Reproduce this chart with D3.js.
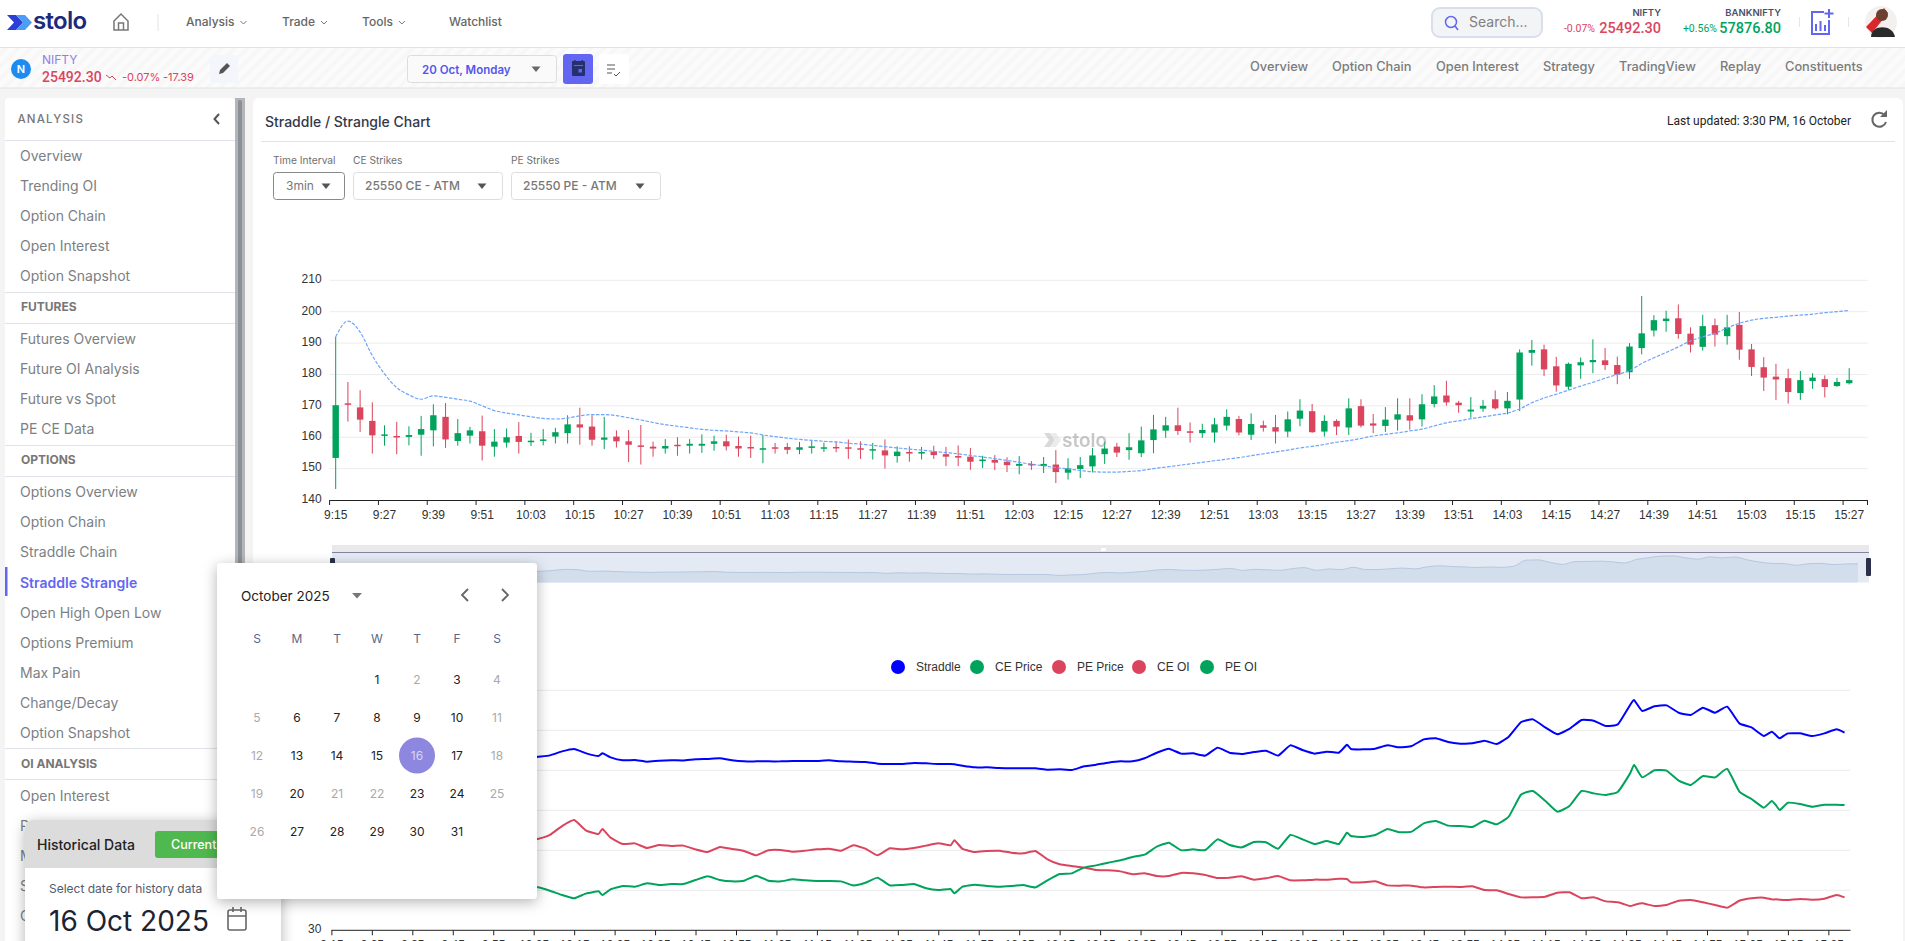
<!DOCTYPE html>
<html lang="en">
<head>
<meta charset="UTF-8">
<title>Straddle / Strangle Chart</title>
<script src="https://d3js.org/d3.v7.min.js"></script>
<style>
    html, body { margin: 0; padding: 0; background: #f4f4f4; overflow: hidden; }
    svg { display: block; font-family: Inter, "Noto Sans", sans-serif; }
    .echart text { font-family: "Liberation Sans", Arial, sans-serif; }
</style>
</head>
<body>
<svg id="page" width="1905" height="941"></svg>
<script>
// candles, one per 3 minutes from 9:15
const candleOpen = [153.4,170.8,169.5,165.2,160.6,160.4,160.1,160.8,162.2,166.5,158.8,160.5,161.9,157,158.3,160.4,158.4,158.9,160.2,161.3,164.1,163.4,159.2,160.2,158.7,157.4,157,156.4,157.6,157.3,157.3,157.9,158.7,157.2,156.9,156,156.8,156.9,156,156.6,156.4,156.9,
    156.8,156.5,155.8,155.8,154,155.3,154.8,155.4,154.6,154,153.8,152.4,152.8,152.2,150.9,151.5,150.8,151.3,148.7,149.9,150.7,154.6,157,155.9,154.9,159.1,162.1,163.8,161.9,161.3,161.5,163.7,165.8,160.8,163.8,163.2,161.8,165.9,168.3,161.8,165.2,163.1,169.9,164.4,
    163.6,165.6,167,165.7,170.6,173.3,171,168.2,169.1,172.1,169.2,172,186.9,188,182.6,176.1,182.9,183.9,184.5,183,180.7,188.4,194,197,197.9,193,188.8,195.7,192.2,195.8,188,182.3,179.3,178.8,174.1,177.9,178.5,176.3,177.2];
const candleClose = [170.2,170.4,165.6,160.6,160.9,160,160.7,162.6,167,159.3,161.3,162.2,157.3,158.6,160,158.5,158.9,159.3,161.6,164.1,163.1,159.2,159.9,158.7,157.6,157,156.4,157.2,157.2,157.9,157.9,158.7,157.1,156.4,156.4,156.5,156.4,156,156.8,157.1,156.8,156.5,
    156.4,156,156.2,154.2,155.4,154.8,155.3,154.3,153.8,153.5,152.2,152.9,151.9,151.1,151.5,151.1,151.5,148.9,150.1,151.1,154.2,156.4,155.1,156.8,159,162.5,163.8,162,161.4,162.3,164.1,166.5,161.5,164.2,163,161.8,165.7,168.5,161.6,165.2,163.4,169.2,163.7,163.7,
    165.6,167.3,165.3,170.5,173,171.1,170.2,168.8,170,169.2,171.6,187,187.8,181.6,176.5,183.4,183.9,184.6,183,179.9,188.9,193.1,197.3,197.8,192.9,189.5,195.4,192.7,195,187.9,182.4,179,178.4,174.4,178.2,179,176,177.6,178.2];
const candleHigh = [192,177.6,175,171.1,163.8,164.9,163.5,166.8,170.5,170.9,165.8,163.3,166.9,162.6,162.8,164.8,161.4,162.6,163,167,169.4,167,166.5,162.2,162.3,163.9,158.6,159.4,160,159.4,160.9,160.5,160.8,160.2,160.5,160.7,158.2,158.2,158.5,158.8,158.3,158.6,
    159.3,158.7,158.2,159.3,157.1,157.1,156.9,157.3,156.9,157.4,156.6,154.1,154.3,153.6,154,152.4,153.7,155.9,153.3,153.7,156.6,158.6,158.2,161.3,163.4,167.1,166.5,169.4,164.7,164.3,166.1,168.9,166.8,167.6,165.3,167.1,168.2,172.1,170.6,167,165.7,172.4,172.1,167.4,
    169.6,172.4,172.4,173.7,176.6,178,171.6,172.8,171.9,174.9,174.4,188,191,189.5,185.6,183.8,185.4,191.2,188.4,185.7,190,205,198.9,200.3,202.3,195,199,197.8,199,199.9,189.7,185.5,183.4,181.8,181.1,180.4,179.7,178.9,182];
const candleLow = [143.5,165,161.7,154.8,157.3,154.6,157.4,154.1,157.1,156.6,157.3,158,152.6,153.8,156.7,154.8,157.2,157.4,158,158,157.6,157.3,156.2,156.7,152.1,151.3,153.8,154.8,154.1,154.8,155,155.7,155.8,153.8,153.4,151.7,154.8,154.6,154.6,154.8,155.3,155.2,
    153.1,153.1,152.9,150,151.9,152.2,152.9,153.1,150.8,150.8,149.6,150.2,149.5,148.9,148.2,149.6,148.6,145.4,146.5,147,148.8,151.5,153.7,152.8,153.7,154.9,159.8,160.7,158.3,159.8,158.3,162.1,160.6,159.1,161.8,158,160,163.5,161.4,160.2,160.7,160.7,163.1,161.3,
    161.7,162.1,162.4,163.4,169.5,170.1,167.8,166.2,168.1,168.8,167.3,168.3,182.8,179.5,174.5,175.1,178.6,180.4,181.4,176.9,178.6,186.4,192.1,193.6,191.4,187,187.6,188.9,189.5,184.7,179.5,174.7,171.9,170.7,171.9,175.4,172.7,176.1,176.8];
const vwapValues = [192,197,193.5,186,180.2,175.8,173.5,172.1,173.2,172.7,172.1,171.5,170,168.5,167.7,167.1,166.5,166,165.8,166.1,166.8,167.2,167.2,166.9,166.2,165.5,164.7,164,163.5,163,162.5,162.2,162,161.7,161.4,160.7,160.2,159.7,159.3,159,158.7,158.5,
    158.1,157.8,157.4,157,156.6,156.2,155.9,155.5,155.1,154.7,154.2,153.7,153.2,152.6,152,151.4,150.9,150.3,149.9,149.4,149,148.9,148.9,149.1,149.4,150,150.5,151,151.5,152,152.5,153,153.5,154.1,154.7,155.3,155.9,156.6,157.1,157.7,158.4,158.9,159.6,160.4,
    160.9,161.4,162,162.6,163.6,164.6,165.2,165.9,166.5,167.1,167.7,169,171,172.5,173.7,175,176.3,177.5,178.8,180,181.2,183.5,185.3,187,188.8,190.7,192,193.1,194.8,196.3,197.3,197.9,198.2,198.6,198.9,199.2,199.7,200,200.4];
const candleTicksY = [140,150,160,170,180,190,200,210];

// lower chart, minutes after 9:15
const lineMinutes = [0,3,6,9,12,15,18,21,24,27,30,33,36,39,42,45,48,51,54,57,60,63,66,67,69,72,75,78,81,84,87,90,93,96,99,102,105,108,111,114,117,120,123,126,129,132,135,138,141,144,147,150,153,154,
    156,159,162,165,168,171,174,177,180,183,186,189,192,195,198,201,204,207,210,213,216,219,222,225,228,231,234,237,240,243,246,249,251,252,255,258,261,264,267,270,273,276,279,282,285,288,291,294,297,300,303,306,309,312,315,318,321,322,324,327,330,333,336,339,342,345,348,351,354,356,357,358,360,363,366,369,372,374];
const straddleValues = [170,170.5,166,161,161,160.5,160.5,162.5,167,159.5,161,162,157.5,158.5,160,158.5,159,160.2,161.2,164.2,166,162.7,160.7,162.7,159.7,157.5,157.7,156.5,157.2,157.5,157.4,158.2,158.5,159,157.5,156.7,156.7,156.7,156.7,157,157,157,157.5,156.7,156.5,156.2,155,154.7,154.7,155.5,155.2,154.7,154.7,154.5,
    153.4,152.2,152.2,151.7,151.5,151.5,151.5,150.5,150.7,150.2,153,154.2,155.7,156.7,156.7,159,163.2,166.2,162.5,162.7,161,167,163.2,162.2,163.7,164.7,161,168.7,165.2,162.5,164,163.2,169.2,166,165.7,166.2,168.7,167.2,168.2,173.2,174,171.2,170,170.2,172.2,169.7,175.2,186,188.2,182.2,177,181,187.7,187.2,183.2,184.5,199,202.7,194.5,198,198.7,193.2,191.5,197,193.2,197.7,185.2,182.2,175.7,179,176.5,174,177.7,177.7,175.7,177.7,180.7,178.2];
const cePriceValues = [68,66,61,58,58,58,57,55,56,55.5,58,60,64,63,62,63,62,62.2,59.7,56.5,54,57.7,59.2,56.5,60.7,63.2,62.7,65.2,64,64.7,64.7,67.7,70.5,67.7,66.7,67.2,71,67.2,66.7,68.2,67.5,67,67,66.7,63.7,65.7,69.5,63.7,64,64.7,61.5,60.2,61,57.7,
    62.7,64.2,63.2,62.7,63.2,64,62.2,67.5,72.2,72.7,77,78.7,80.7,82.5,85,86.7,92.7,95.7,90,90.7,90.2,98.2,94,92.2,96.2,96,91.2,101.5,98.2,94.7,97,94.7,103.2,100.7,100,101.5,106,103.5,104,110.2,112,108.5,108.2,107.5,112.2,109.5,115.2,131.7,134.5,127.2,119,123.2,134.5,132.7,131.5,134,147.7,154,144.7,150,149.7,142.2,139,145.7,144.7,151,134,128.5,122,127,124,120.2,125.7,124.7,122.7,124.2,124.2,124];
const pePriceValues = [102,104.5,105,103,103,102.5,103.5,107.5,111,104,103,102,93.5,95.5,98,95.5,97,98.5,101.5,108.2,112.7,104.7,102.2,106,99.5,94.7,95.2,91.7,94,93.2,93.5,90.7,88.7,92.5,91,89.5,86.2,90,90.2,89,89.7,90.7,91.2,89.7,93.7,91.2,86.2,91.5,90.7,91.7,93.5,95.2,93.7,97.5,
    91,88.7,89.5,89.7,88.2,87.7,89.5,83.2,79.5,78.2,77,75.2,75,74.2,72,72.7,70.7,70.7,73,72.7,71.5,69.2,69.5,70.5,68,69,70.7,67.5,67.5,68,68,68.7,68.5,66,66,66.7,63.7,63.5,63.5,62.2,62.5,62.7,62.5,63,60.2,60,57.2,54.7,54.7,55.2,58.2,58.5,54,54.7,51.7,51,48.2,49,50.2,48.2,49,52.2,52.7,51,49,47,52.2,54,54.5,53.2,53.2,53,52.7,53.5,53,53.7,56.5,54.7];
const lineTicksY = [30,60,90,120,150,180,210];
const legendNames = ["Straddle","CE Price","PE Price","CE OI","PE OI"];

// page text
const navItems = ["Analysis","Trade","Tools","Watchlist"];
const tabItems = ["Overview","Option Chain","Open Interest","Strategy","TradingView","Replay","Constituents"];
const sidebarItems = ["Overview","Trending OI","Option Chain","Open Interest","Option Snapshot","FUTURES","Futures Overview","Future OI Analysis","Future vs Spot","PE CE Data","OPTIONS","Options Overview","Option Chain","Straddle Chain","Straddle Strangle","Open High Open Low","Options Premium","Max Pain","Change/Decay","Option Snapshot","OI ANALYSIS","Open Interest","PCR & OI Trend","Max Pain","Spot","Chart"];
const weekDays = ["S","M","T","W","T","F","S"];
const calendarWeeks = [[null,null,null,1,2,3,4],[5,6,7,8,9,10,11],[12,13,14,15,16,17,18],[19,20,21,22,23,24,25],[26,27,28,29,30,31,null]];
const dimmedDays = [2,4,5,11,12,18,19,21,22,25,26];

const GREEN = "#00a35c", RED = "#da455d", BLUE = "#0000ff", PURPLE = "#6366f1";

const svg = d3.select("#page");
const defs = svg.append("defs");
const stripes = defs.append("pattern").attr("id", "stripes").attr("width", 9).attr("height", 9)
    .attr("patternUnits", "userSpaceOnUse").attr("patternTransform", "rotate(45)");
stripes.append("rect").attr("width", 9).attr("height", 9).attr("fill", "#fbfbfb");
stripes.append("rect").attr("width", 4).attr("height", 9).attr("fill", "#f7f7f7");
const shadow = defs.append("filter").attr("id", "shadow").attr("x", "-15%").attr("y", "-15%").attr("width", "130%").attr("height", "130%");
shadow.append("feDropShadow").attr("dx", 0).attr("dy", 3).attr("stdDeviation", 7).attr("flood-color", "#000").attr("flood-opacity", 0.3);

function rect(parent, x, y, w, h, fill, extra = {}) {
    const r = parent.append("rect").attr("x", x).attr("y", y).attr("width", w).attr("height", h).attr("fill", fill);
    Object.entries(extra).forEach(([k, v]) => r.attr(k, v));
    return r;
}
function label(parent, x, y, str, size, color, extra = {}) {
    const t = parent.append("text").attr("x", x).attr("y", y).attr("dy", "0.35em")
        .attr("font-size", size).attr("fill", color).text(str);
    Object.entries(extra).forEach(([k, v]) => t.attr(k, v));
    return t;
}
function hline(parent, x1, x2, y, color) {
    parent.append("line").attr("x1", x1).attr("x2", x2).attr("y1", y).attr("y2", y).attr("stroke", color);
}
function caret(parent, x, y, color = "#666", w = 5) {
    parent.append("path").attr("d", `M${x - w},${y - 2.5}L${x + w},${y - 2.5}L${x},${y + 3}Z`).attr("fill", color);
}
function chevron(parent, x, y, color = "#777", size = 3) {
    parent.append("path").attr("d", `M${x - size},${y - size / 2}L${x},${y + size / 2}L${x + size},${y - size / 2}`)
        .attr("fill", "none").attr("stroke", color);
}

// ---------- header ----------
const header = svg.append("g");
rect(header, 0, 0, 1905, 47, "#fff");
hline(header, 0, 1905, 47.5, "#e2e2e2");
[[7, "#2b3fd6"], [16, "#4e9df5"]].forEach(([x, c]) => {
    header.append("path").attr("d", `M${x},15L${x + 9},15L${x + 16},22.5L${x + 9},30L${x},30L${x + 7},22.5Z`).attr("fill", c);
});
label(header, 33, 21, "stolo", 24, "#1c2a7a", {"font-weight": 600, "letter-spacing": "-0.7px"});
header.append("path").attr("d", "M114,21L121,14L128,21V30H114ZM118.5,30V23H123.5V30").attr("fill", "none").attr("stroke", "#777").attr("stroke-width", 1.5);
rect(header, 157.5, 14, 1, 17, "#e4e4e4");
[186, 282, 362, 449].forEach((x, i) => {
    const t = label(header, x, 22, navItems[i], 12, "#666", {"font-weight": 500});
    if (i < 3) chevron(header, x + t.node().getComputedTextLength() + 9, 22.5);
});
rect(header, 1432, 8, 110, 29, "#f3f4f6", {stroke: "#d9deee", "stroke-width": 2, rx: 8});
header.append("circle").attr("cx", 1451).attr("cy", 22).attr("r", 5.5).attr("fill", "none").attr("stroke", PURPLE).attr("stroke-width", 1.5);
header.append("path").attr("d", "M1455,26L1458,30").attr("stroke", PURPLE).attr("stroke-width", 1.5);
label(header, 1469, 22, "Search...", 14, "#808080");
const robotoNum = {"text-anchor": "end", "font-family": "Roboto", "font-weight": 500};
label(header, 1661, 13, "NIFTY", 9.5, "#4a4f6a", {"text-anchor": "end", "font-weight": 600});
label(header, 1595, 28, "-0.07%", 10.5, RED, {"text-anchor": "end", "font-family": "Roboto"});
label(header, 1661, 28, "25492.30", 14.5, RED, robotoNum);
label(header, 1781, 13, "BANKNIFTY", 9.5, "#4a4f6a", {"text-anchor": "end", "font-weight": 600});
label(header, 1717, 28, "+0.56%", 10.5, GREEN, {"text-anchor": "end", "font-family": "Roboto"});
label(header, 1781, 28, "57876.80", 14.5, GREEN, robotoNum);
header.append("path").attr("d", "M1824,12H1812V34H1829V20M1816,31V24M1820.5,31V21M1825,31V25M1829,9V18M1824.5,13.5H1833.5")
    .attr("fill", "none").attr("stroke", PURPLE).attr("stroke-width", 2);
rect(header, 1799, 17, 1, 10, "#e6e6e6");
rect(header, 1848, 17, 1, 10, "#e6e6e6");
const avatar = header.append("g");
avatar.append("circle").attr("cx", 1881).attr("cy", 22).attr("r", 16).attr("fill", "#f4f0f0");
avatar.append("path").attr("d", "M1866,27L1884,8L1888,13L1872,33Z").attr("fill", "#d8282c");
avatar.append("circle").attr("cx", 1882).attr("cy", 15).attr("r", 6).attr("fill", "#6b4030");
avatar.append("path").attr("d", "M1871,37C1871,24 1893,24 1895,37Z").attr("fill", "#2b2a2a");

// ---------- symbol bar ----------
const bar = svg.append("g");
rect(bar, 0, 48, 1905, 40, "url(#stripes)");
hline(bar, 0, 1905, 88, "#e2e2e2");
bar.append("circle").attr("cx", 21).attr("cy", 69).attr("r", 10).attr("fill", "#1c8cf0");
label(bar, 21, 69, "N", 11, "#fff", {"text-anchor": "middle", "font-weight": 600});
label(bar, 42, 60, "NIFTY", 12, "#8f7fe6");
label(bar, 42, 77, "25492.30", 14, RED, {"font-family": "Roboto", "font-weight": 500});
bar.append("path").attr("d", "M106,75L110,78L112,76L116,80").attr("fill", "none").attr("stroke", RED);
label(bar, 122, 77, "-0.07%", 11, RED);
label(bar, 163, 77, "-17.39", 11, RED);
rect(bar, 210, 55, 28, 28, "#f3f7fb", {rx: 3});
bar.append("path").attr("d", "M219,74L220,70L227,63L230,66L223,73Z").attr("fill", "#555");
rect(bar, 407.5, 55.5, 149, 27, "#fafafa", {stroke: "#ddd", rx: 3});
label(bar, 422, 69.5, "20 Oct, Monday", 11.5, "#5457ee", {"font-weight": 600});
caret(bar, 536, 69, "#666", 4.5);
rect(bar, 563, 54, 30, 30, PURPLE, {rx: 3});
rect(bar, 572, 61, 13, 15, "#26306e", {rx: 1});
rect(bar, 574, 60, 1.5, 3, "#26306e");
rect(bar, 581.5, 60, 1.5, 3, "#26306e");
rect(bar, 574, 65, 9, 1, PURPLE);
rect(bar, 578.5, 69, 3.5, 3.5, PURPLE);
rect(bar, 599, 54, 30, 30, "#fff", {rx: 3});
bar.append("path").attr("d", "M607,65H615M607,69H615M607,73H612M614,74L616,76L620,72").attr("fill", "none").attr("stroke", "#555");
[1250, 1332, 1436, 1543, 1619, 1720, 1785].forEach((x, i) => label(bar, x, 67, tabItems[i], 12.8, "#7c7c7c", {"font-weight": 500}));

// ---------- sidebar ----------
const side = svg.append("g");
rect(side, 5, 98, 230, 850, "#fff", {rx: 4});
rect(side, 235, 98, 10, 850, "#b5b5b5");
rect(side, 238, 100, 4, 846, "#8a8f9c", {rx: 2});
label(side, 17.5, 118.5, "ANALYSIS", 11.5, "#777", {"font-weight": 500, "letter-spacing": "1.2px"});
side.append("path").attr("d", "M219,114L214.5,119L219,124").attr("fill", "none").attr("stroke", "#555").attr("stroke-width", 2);
[140, 292, 323, 445, 476, 748, 779].forEach(y => hline(side, 5, 235, y + 0.5, "#e2e2ea"));
const sidebarY = [156,186,216,246,276,307,339,369,399,429,460,492,522,552,583,613,643,673,703,733,764,796,826,856,886,916];
sidebarItems.forEach((name, i) => {
    const heading = name === name.toUpperCase() && name.length > 5;
    if (name === "Straddle Strangle") {
        rect(side, 5, 567, 2.5, 29, PURPLE);
        label(side, 20, sidebarY[i], name, 14, PURPLE, {"font-weight": 600});
    } else if (heading) {
        label(side, 21, sidebarY[i], name, 12, "#777", {"font-weight": 700});
    } else {
        label(side, 20, sidebarY[i], name, 14, "#7b7f85");
    }
});

// ---------- main panel ----------
const main = svg.append("g");
rect(main, 253, 98, 1650, 860, "#fff", {rx: 6});
label(main, 265, 122, "Straddle / Strangle Chart", 14, "#33394a", {"font-weight": 500});
hline(main, 261, 1895, 141.5, "#e2e2e2");
label(main, 1851, 121, "Last updated: 3:30 PM, 16 October", 12, "#222", {"text-anchor": "end", "font-family": "Roboto"});
main.append("path").attr("d", "M1884.5,115A7,7 0 1,0 1886,122").attr("fill", "none").attr("stroke", "#666").attr("stroke-width", 2);
main.append("path").attr("d", "M1887,110V117H1880Z").attr("fill", "#666");
[[273, "Time Interval"], [353, "CE Strikes"], [511, "PE Strikes"]].forEach(([x, s]) => label(main, x, 160, s, 10.2, "#6f6f6f"));
[[273.5, 71, "3min", 286, 326, "#888", 400], [353.5, 149, "25550 CE - ATM", 365, 482, "#ddd", 500], [511.5, 149, "25550 PE - ATM", 523, 640, "#ddd", 500]].forEach(([x, w, s, tx, cx, st, fw]) => {
    rect(main, x, 172.5, w, 27, "#fff", {stroke: st, rx: 3});
    label(main, tx, 186, s, 12, "#777", {"font-weight": fw});
    caret(main, cx, 186, "#555", 4.5);
});

// ---------- candle chart ----------
const chart = svg.append("g").attr("class", "echart");
const fmtTime = m => { const t = 9 * 60 + 15 + m; return Math.floor(t / 60) + ":" + String(t % 60).padStart(2, "0"); };
const candleTimes = d3.range(126).map(i => fmtTime(i * 3));

const x = d3.scaleBand().domain(candleTimes).range([329.6, 1867.5]);
const y = d3.scaleLinear().domain([140, 210]).range([500, 280.3]);

chart.append("g").selectAll("line").data(candleTicksY.slice(1)).join("line")
    .attr("x1", 329.6).attr("x2", 1867.5).attr("y1", d => y(d)).attr("y2", d => y(d)).attr("stroke", "#ececec");

const yAxis = chart.append("g").attr("transform", "translate(329.6,0)")
    .call(d3.axisLeft(y).tickValues(candleTicksY).tickSize(0).tickPadding(8));
yAxis.select(".domain").remove();
yAxis.selectAll("text").attr("font-size", 12).attr("fill", "#333").attr("y", -1.5);

const xAxis = chart.append("g").attr("transform", "translate(0,500)")
    .call(d3.axisBottom(x).tickValues(candleTimes.filter((d, i) => i % 4 === 0 && i < 125)).tickSize(5).tickSizeOuter(0).tickPadding(5));
xAxis.select(".domain").attr("stroke", "#222");
xAxis.selectAll(".tick line").attr("x1", -x.bandwidth() / 2).attr("x2", -x.bandwidth() / 2).attr("stroke", "#222");
xAxis.selectAll("text").attr("font-size", 12).attr("fill", "#333");
chart.append("line").attr("x1", 1867.5).attr("x2", 1867.5).attr("y1", 500).attr("y2", 505).attr("stroke", "#222");

const candleData = candleOpen.map((o, i) => ({t: candleTimes[i], o, c: candleClose[i], h: candleHigh[i], l: candleLow[i]}));
const candles = chart.append("g").selectAll("g").data(candleData).join("g");
candles.append("line")
    .attr("x1", d => x(d.t) + x.bandwidth() / 2).attr("x2", d => x(d.t) + x.bandwidth() / 2)
    .attr("y1", d => y(d.h)).attr("y2", d => y(d.l))
    .attr("stroke", d => d.c >= d.o ? GREEN : RED);
candles.append("rect")
    .attr("x", d => x(d.t) + x.bandwidth() / 2 - 3.2).attr("width", 6.4)
    .attr("y", d => y(Math.max(d.o, d.c))).attr("height", d => Math.max(1.5, Math.abs(y(d.o) - y(d.c))))
    .attr("fill", d => d.c >= d.o ? GREEN : RED);

chart.append("path").datum(vwapValues)
    .attr("fill", "none").attr("stroke", "#6ea5fb").attr("stroke-width", 1.2).attr("stroke-dasharray", "3.5 1.5")
    .attr("d", d3.line().x((d, i) => x(candleTimes[i]) + x.bandwidth() / 2).y(d => y(d)).curve(d3.curveMonotoneX));

// watermark
const mark = svg.append("g").attr("opacity", 0.55);
[[1044, "#bbb"], [1050, "#ddd"]].forEach(([mx, c]) => {
    mark.append("path").attr("d", `M${mx},433H${mx + 6}L${mx + 11},440L${mx + 6},447H${mx}L${mx + 5},440Z`).attr("fill", c);
});
label(mark, 1062, 440, "stolo", 19, "#9a9a9a", {"font-weight": 600});

// ---------- range slider ----------
const slider = svg.append("g");
rect(slider, 332, 545, 1537, 7, "#e9e9ec");
rect(slider, 332, 552.5, 1537, 30, "#e4eaf4");
const sx = d3.scaleLinear().domain([0, 124]).range([332, 1858]);
const sy = d3.scaleLinear().domain([150, 195]).range([575, 557]);
const sliderArea = d3.area().x((d, i) => sx(i)).y0(582.5).y1(d => sy(d)).curve(d3.curveMonotoneX);
slider.append("path").datum(candleClose).attr("d", sliderArea).attr("fill", "#d3deec");
slider.append("path").datum(candleClose).attr("fill", "none").attr("stroke", "#b6c7e0")
    .attr("d", d3.line().x((d, i) => sx(i)).y(d => sy(d)).curve(d3.curveMonotoneX));
hline(slider, 332, 1869, 552.5, "#85839f");
rect(slider, 1101, 548, 5, 3, "#fff");
rect(slider, 330, 558, 5, 18, "#2a2f4c", {rx: 1});
rect(slider, 1866, 558, 5, 18, "#2a2f4c", {rx: 1});

// ---------- line chart ----------
const lower = svg.append("g").attr("class", "echart");
const lx = d3.scaleLinear().domain([0, 375]).range([331.4, 1848.6]);
const ly = d3.scaleLinear().domain([30, 210]).range([930.3, 690.3]);

lower.append("g").selectAll("line").data(lineTicksY.slice(1)).join("line")
    .attr("x1", 331.4).attr("x2", 1850.5).attr("y1", d => ly(d)).attr("y2", d => ly(d)).attr("stroke", "#ececec");
const lyAxis = lower.append("g").attr("transform", "translate(331.4,0)")
    .call(d3.axisLeft(ly).tickValues(lineTicksY).tickSize(0).tickPadding(10));
lyAxis.select(".domain").remove();
lyAxis.selectAll("text").attr("font-size", 12).attr("fill", "#333").attr("y", -1.5);
const lxAxis = lower.append("g").attr("transform", "translate(0,930.3)")
    .call(d3.axisBottom(lx).tickValues(d3.range(0, 375, 10)).tickFormat(fmtTime).tickSize(5).tickSizeOuter(0).tickPadding(5));
lxAxis.select(".domain").attr("stroke", "#222").attr("d", "M331.4,0H1850.5");
lxAxis.selectAll(".tick line").attr("stroke", "#222");
lxAxis.selectAll("text").attr("font-size", 12).attr("fill", "#333");

const lineGen = d3.line().x((d, i) => lx(lineMinutes[i])).y(d => ly(d)).curve(d3.curveCardinal.tension(0.6));
[[pePriceValues, RED], [cePriceValues, GREEN], [straddleValues, BLUE]].forEach(([vals, color]) => {
    lower.append("path").datum(vals).attr("fill", "none").attr("stroke", color).attr("stroke-width", 2).attr("d", lineGen);
});

const legendDotX = [898, 977, 1059, 1139, 1207];
const legendColors = [BLUE, GREEN, RED, RED, GREEN];
legendNames.forEach((name, i) => {
    lower.append("circle").attr("cx", legendDotX[i]).attr("cy", 667).attr("r", 7).attr("fill", legendColors[i]);
    label(lower, legendDotX[i] + 18, 667, name, 12, "#333");
});

// ---------- historical data card ----------
const hist = svg.append("g");
hist.append("rect").attr("x", 25).attr("y", 820).attr("width", 256).attr("height", 140).attr("rx", 8).attr("fill", "#fff").attr("filter", "url(#shadow)");
hist.append("path").attr("d", "M25,868V828A8,8 0 0 1 33,820H273A8,8 0 0 1 281,828V868Z").attr("fill", "#dcdcdc");
label(hist, 37, 845, "Historical Data", 14, "#222", {"font-weight": 500});
rect(hist, 155, 831, 70, 27, "#4fb84f", {rx: 3});
label(hist, 171, 845, "Current", 12.5, "#fff", {"font-weight": 500});
label(hist, 49, 889, "Select date for history data", 12, "#555a6a");
label(hist, 49, 921, "16 Oct 2025", 28, "#1d2330", {"font-weight": 400});
rect(hist, 228, 910, 18, 20, "none", {stroke: "#666", "stroke-width": 1.6, rx: 2});
hist.append("path").attr("d", "M228,916H246M233,907V912M241,907V912").attr("stroke", "#666").attr("stroke-width", 1.6);

// ---------- calendar popup ----------
const cal = svg.append("g");
rect(cal, 217, 563, 320, 336, "#fff", {rx: 4, filter: "url(#shadow)"});
label(cal, 241, 596, "October 2025", 13.5, "#222", {"font-weight": 400});
caret(cal, 357, 595.5, "#777", 5);
cal.append("path").attr("d", "M468,589L462,595L468,601M502,589L508,595L502,601").attr("fill", "none").attr("stroke", "#666").attr("stroke-width", 1.8);
const dayX = d3.scalePoint().domain(d3.range(7)).range([257, 497]);
weekDays.forEach((d, i) => label(cal, dayX(i), 639, d, 12, "#5d6484", {"text-anchor": "middle"}));
const weekY = d3.scalePoint().domain(d3.range(5)).range([679.5, 831.5]);
cal.append("circle").attr("cx", dayX(4)).attr("cy", weekY(2)).attr("r", 18).attr("fill", "#8d87e0");
calendarWeeks.forEach((week, w) => week.forEach((day, i) => {
    if (day === null) return;
    const color = day === 16 ? "#d9d6f6" : dimmedDays.includes(day) ? "#aaa" : "#222";
    label(cal, dayX(i), weekY(w), day, 12, color, {"text-anchor": "middle"});
}));
</script>
</body>
</html>
